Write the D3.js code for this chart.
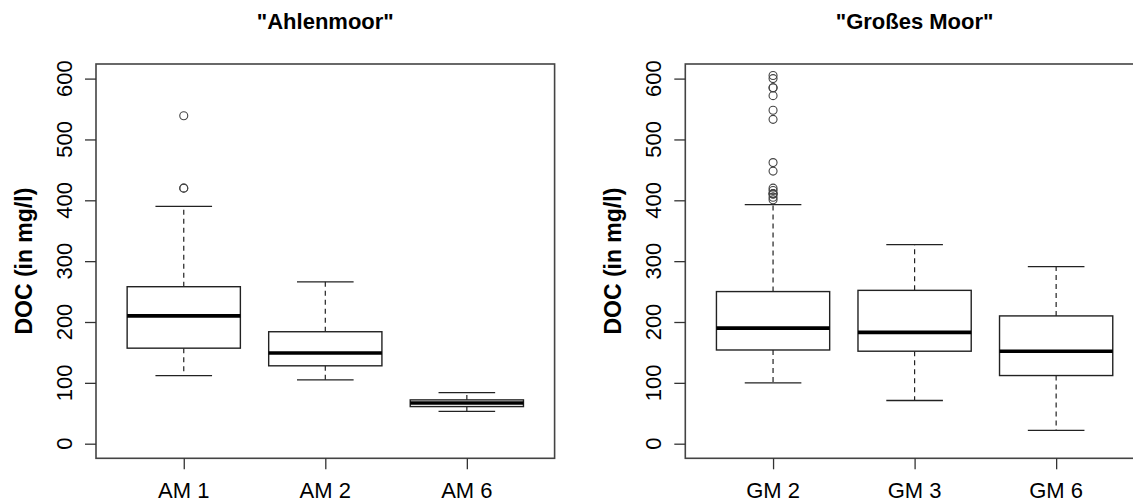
<!DOCTYPE html>
<html>
<head>
<meta charset="utf-8">
<script src="https://cdn.jsdelivr.net/npm/d3@7"></script>
<style>
    body { margin: 0; background: #fff; }
    text { font-family: "Liberation Sans", Arial, sans-serif; fill: #000; }
    .title { font-weight: bold; font-size: 22px; }
    .ylab { font-weight: bold; font-size: 23px; }
    .tick-label { font-size: 22px; }
</style>
</head>
<body>
<svg id="chart" width="1133" height="502"></svg>
<script>
// values (DOC in mg/l)
const yTicks = [0, 100, 200, 300, 400, 500, 600];

const amLabels = ["AM 1", "AM 2", "AM 6"];
const amLow = [112, 105, 53];
const amQ1 = [157, 128, 61];
const amMedian = [210, 149, 67];
const amQ3 = [258, 184, 72];
const amHigh = [390, 266, 84];
const amOutliers = [[539, 420, 420], [], []];

const gmLabels = ["GM 2", "GM 3", "GM 6"];
const gmLow = [100, 71, 22];
const gmQ1 = [154, 152, 112];
const gmMedian = [190, 183, 152];
const gmQ3 = [250, 252, 210];
const gmHigh = [393, 327, 291];
const gmOutliers = [[605, 600, 585, 585, 572, 548, 533, 462, 448, 420, 416, 411, 411, 410, 405, 401], [], []];

/** One boxplot panel, R style */
class BoxPanel {
    /**
     * @param svg the svg selection
     * @param left left edge of the plot region
     * @param title panel title
     * @param data stats object with arrays
     */
    constructor(svg, left, title, data) {
        this.svg = svg;
        this.left = left;
        this.title = title;
        this.data = data;
        this.width = 458.6;
        this.top = 64;
        this.bottom = 458.3;
    }

    draw() {
        let d = this.data;
        let x = d3.scaleLinear().domain([0.38, 3.62]).range([this.left, this.left + this.width]);
        let y = d3.scaleLinear().domain([-24, 624]).range([this.bottom, this.top]);
        let g = this.svg.append("g");
        let half = 0.4 * (x(2) - x(1));

        let boxes = d.labels.map((lab, i) => ({
            pos: i + 1, lo: d.low[i], q1: d.q1[i], med: d.median[i],
            q3: d.q3[i], hi: d.high[i], out: d.outliers[i]
        }));

        // whiskers
        g.selectAll(".whisker-up").data(boxes).join("line")
            .attr("x1", b => x(b.pos)).attr("x2", b => x(b.pos))
            .attr("y1", b => y(b.q3)).attr("y2", b => y(b.hi))
            .attr("stroke", "#222").attr("stroke-width", 1.2).attr("stroke-dasharray", "5,4");
        g.selectAll(".whisker-down").data(boxes).join("line")
            .attr("x1", b => x(b.pos)).attr("x2", b => x(b.pos))
            .attr("y1", b => y(b.q1)).attr("y2", b => y(b.lo))
            .attr("stroke", "#222").attr("stroke-width", 1.2).attr("stroke-dasharray", "5,4");

        // staples
        ["hi", "lo"].forEach(k => {
            g.selectAll(".staple-" + k).data(boxes).join("line")
                .attr("x1", b => x(b.pos) - half / 2).attr("x2", b => x(b.pos) + half / 2)
                .attr("y1", b => y(b[k])).attr("y2", b => y(b[k]))
                .attr("stroke", "#222").attr("stroke-width", 1.3);
        });

        // boxes
        g.selectAll(".box").data(boxes).join("rect")
            .attr("x", b => x(b.pos) - half).attr("width", 2 * half)
            .attr("y", b => y(b.q3)).attr("height", b => y(b.q1) - y(b.q3))
            .attr("fill", "white").attr("stroke", "#222").attr("stroke-width", 1.4);

        // medians
        g.selectAll(".median").data(boxes).join("line")
            .attr("x1", b => x(b.pos) - half).attr("x2", b => x(b.pos) + half)
            .attr("y1", b => y(b.med)).attr("y2", b => y(b.med))
            .attr("stroke", "#000").attr("stroke-width", 3.6);

        // outliers
        let pts = [];
        boxes.forEach(b => b.out.forEach(v => pts.push({pos: b.pos, v: v})));
        g.selectAll(".outlier").data(pts).join("circle")
            .attr("cx", p => x(p.pos)).attr("cy", p => y(p.v)).attr("r", 4)
            .attr("fill", "none").attr("stroke", "#444").attr("stroke-width", 1.1);

        // frame
        g.append("rect")
            .attr("x", this.left).attr("y", this.top)
            .attr("width", this.width).attr("height", this.bottom - this.top)
            .attr("fill", "none").attr("stroke", "#444").attr("stroke-width", 1.6);

        // y axis
        let yAxis = g.append("g").attr("transform", "translate(" + this.left + ",0)")
            .call(d3.axisLeft(y).tickValues(yTicks).tickSize(11).tickFormat(""));
        yAxis.select(".domain").remove();
        yAxis.selectAll("line").attr("stroke", "#333").attr("stroke-width", 1.3);
        g.selectAll(".ytl").data(yTicks).join("text")
            .attr("class", "tick-label")
            .attr("transform", v => "translate(" + (this.left - 24) + "," + y(v) + ") rotate(-90)")
            .attr("text-anchor", "middle")
            .text(v => v);

        // x axis
        let xAxis = g.append("g").attr("transform", "translate(0," + this.bottom + ")")
            .call(d3.axisBottom(x).tickValues([1, 2, 3]).tickSize(11).tickFormat(""));
        xAxis.select(".domain").remove();
        xAxis.selectAll("line").attr("stroke", "#333").attr("stroke-width", 1.3);
        g.selectAll(".xtl").data(boxes).join("text")
            .attr("class", "tick-label")
            .attr("x", b => x(b.pos)).attr("y", 498)
            .attr("text-anchor", "middle")
            .text((b, i) => d.labels[i]);

        // labels
        g.append("text").attr("class", "ylab")
            .attr("transform", "translate(" + (this.left - 64) + "," + ((this.top + this.bottom) / 2) + ") rotate(-90)")
            .attr("text-anchor", "middle")
            .text("DOC (in mg/l)");
        g.append("text").attr("class", "title")
            .attr("x", this.left + this.width / 2).attr("y", 29)
            .attr("text-anchor", "middle")
            .text(this.title);
    }
}

let svg = d3.select("#chart");
new BoxPanel(svg, 96, "\"Ahlenmoor\"", {
    labels: amLabels, low: amLow, q1: amQ1, median: amMedian, q3: amQ3, high: amHigh, outliers: amOutliers
}).draw();
new BoxPanel(svg, 685.3, "\"Großes Moor\"", {
    labels: gmLabels, low: gmLow, q1: gmQ1, median: gmMedian, q3: gmQ3, high: gmHigh, outliers: gmOutliers
}).draw();
</script>
</body>
</html>
